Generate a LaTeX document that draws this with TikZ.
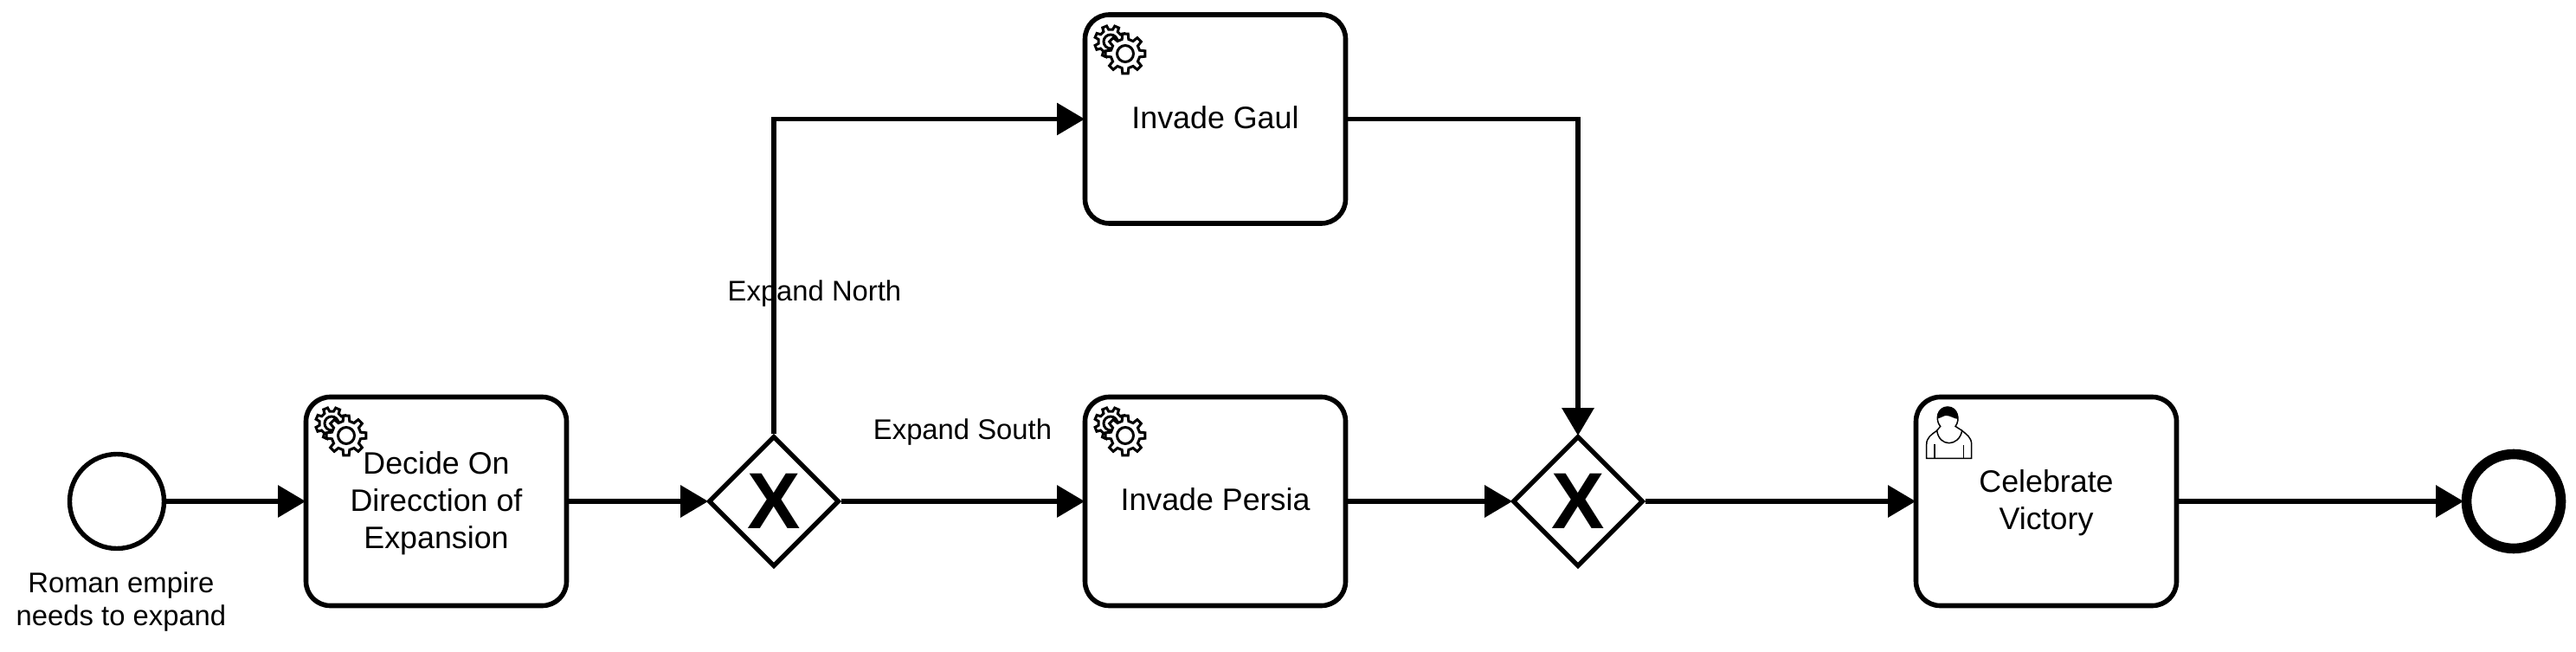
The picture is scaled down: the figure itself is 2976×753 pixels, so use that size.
\documentclass[tikz,border=0pt]{standalone}
\usepackage{fontspec}
\setmainfont{Liberation Sans}
\usetikzlibrary{shapes.geometric,arrows.meta}
\newcommand{\gearoutline}[4]{% r outer, r root, inner r, rotation
  \draw[fill=white,gearline,rotate=#4] (-13:#2)
    \foreach \i in {0,...,7}{
      -- ({\i*45-13}:#2) -- ({\i*45-8}:#1) -- ({\i*45+8}:#1) -- ({\i*45+13}:#2)
      arc[start angle={\i*45+13},end angle={\i*45+32},radius=#2]
    } -- cycle;
  \draw[gearline] (0,0) circle (#3);
}
\newcommand{\gearicon}[2]{%
  \begin{scope}[shift={(#1+32,#2+33)}]\gearoutline{18.5}{14}{8}{22}\end{scope}
  \begin{scope}[shift={(#1+49,#2+47)}]\gearoutline{23}{17}{9.5}{0}\end{scope}
}
\newcommand{\liftline}{\rule[-2pt]{0pt}{0pt}}
\newcommand{\dropline}{\rule{0pt}{15pt}}
\tikzset{
  gearline/.style={line width=1.5pt,line join=miter},
  personline/.style={line width=0.75pt},
  taskbox/.style={draw,line width=2.8pt,fill=white,rounded corners=14pt,minimum width=150.5pt,minimum height=120.5pt,inner sep=0pt,align=center,font=\fontsize{17.9}{21.5}\selectfont},
  gatebox/.style={draw,diamond,aspect=1,line width=2.7pt,fill=white,minimum width=75.5pt,minimum height=75.5pt,inner sep=0pt,font=\fontsize{46}{46}\selectfont\bfseries},
  startbox/.style={draw,circle,line width=2.7pt,fill=white,minimum size=54.5pt,inner sep=0pt},
  endbox/.style={draw,circle,line width=5.8pt,fill=white,minimum size=54.5pt,inner sep=0pt},
  lab/.style={inner sep=0pt,align=center,font=\fontsize{16.4}{19.3}\selectfont},
  flow/.style={line width=2.95pt,shorten >=-1.2pt,-{Triangle[length=16pt,width=18pt]}}
}
\begin{document}
\begin{tikzpicture}[x=0.5pt,y=-0.5pt]
\useasboundingbox (0,0) rectangle (2976,753);
\fill[white] (0,0) rectangle (2976,753);
% labels
\node[lab,anchor=base] (lnorth) at (941,348) {Expand North};
\node[lab,anchor=base] (lsouth) at (1112,507) {Expand South};
\node[lab] (lstart) at (140,695) {Roman empire\\needs to expand};
% nodes
\node[startbox] (start) at (135,579) {};
\node[taskbox] (decide) at (504,579) {\dropline Decide On\\Direcction of\\Expansion};
\node[gatebox] (g1) at (894,579) {X};
\node[taskbox] (gaul) at (1404,137.5) {\liftline Invade Gaul};
\node[taskbox] (persia) at (1404,579) {\liftline Invade Persia};
\node[gatebox] (g2) at (1823,579) {X};
\node[taskbox] (party) at (2364,579) {\dropline Celebrate\\Victory};
\node[endbox] (stop) at (2904,579) {};
% icons
\gearicon{351}{456}
\gearicon{1251}{15}
\gearicon{1251}{456}
\begin{scope}[shift={(2215,460)},x=0.1667pt,y=-0.1667pt]
  \draw[personline,fill=white] (32,208) -- (32,160) .. controls (32,135) and (50,125) .. (68,112)
     .. controls (72,140) and (90,155) .. (110,155) .. controls (130,155) and (150,140) .. (155,112)
     .. controls (170,125) and (188,135) .. (188,160) -- (188,208) -- cycle;
  \draw[personline] (60,160) -- (60,208) (160,162) -- (160,208);
  \draw[personline,fill=white] (68,112) -- (80,97) .. controls (60,75) and (70,30) .. (105,30)
     .. controls (140,30) and (150,75) .. (132,97) -- (155,112);
  \fill (69,70) .. controls (69,40) and (85,30) .. (105,30) .. controls (125,30) and (141,40) .. (141,72)
     .. controls (125,70) and (115,60) .. (100,60) .. controls (90,60) and (80,70) .. (69,70) -- cycle;
\end{scope}
% connectors
\coordinate (cnorth) at (g1 |- gaul);
\coordinate (ceast) at (g2 |- gaul);
\draw[flow] (start) -- (decide);
\draw[flow] (decide) -- (g1);
\draw[flow] (g1) -- (persia);
\draw[flow] (g1.north) -- (cnorth) -- (gaul.west);
\draw[flow] (persia) -- (g2);
\draw[flow] (gaul.east) -- (ceast) -- (g2.north);
\draw[flow] (g2) -- (party);
\draw[flow] (party) -- (stop);
\end{tikzpicture}
\end{document}
